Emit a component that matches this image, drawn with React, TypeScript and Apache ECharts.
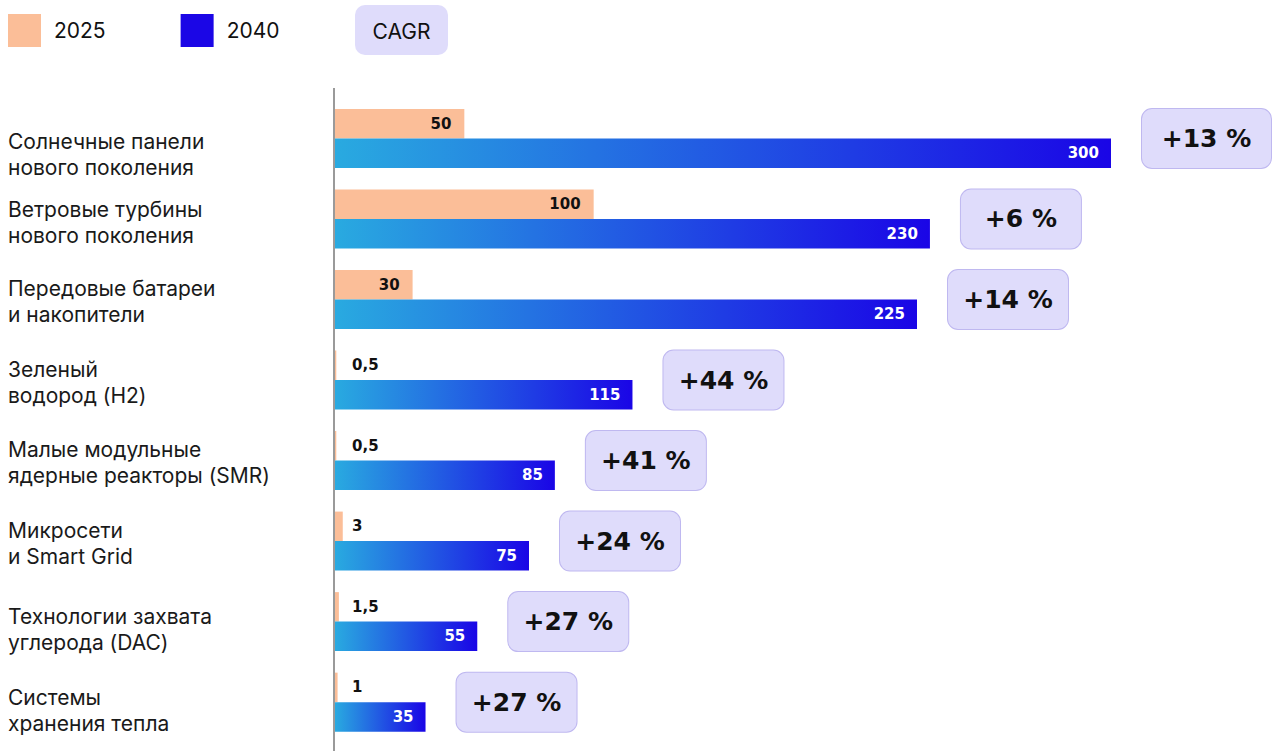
import React, { useEffect, useRef } from "react";
import * as echarts from "echarts";

const categories = [
  "Солнечные панели\nнового поколения",
  "Ветровые турбины\nнового поколения",
  "Передовые батареи\nи накопители",
  "Зеленый\nводород (H2)",
  "Малые модульные\nядерные реакторы (SMR)",
  "Микросети\nи Smart Grid",
  "Технологии захвата\nуглерода (DAC)",
  "Системы\nхранения тепла",
];
const values2025 = [50, 100, 30, 0.5, 0.5, 3, 1.5, 1];
const values2040 = [300, 230, 225, 115, 85, 75, 55, 35];
const cagr = [13, 6, 14, 44, 41, 24, 27, 27];
const seriesNames = ["2025", "2040"];

const labelOffsets = [16, 3.5, 2, 2, 1.5, 2.5, 7.5, 8];

const fmt = (v: number) => String(v).replace(".", ",");

export default function App() {
  const ref = useRef<HTMLDivElement>(null);
  useEffect(() => {
    if (!ref.current) return;
    const chart = echarts.init(ref.current, undefined, { renderer: "svg" });
    const peach = "#FBBE98";
    const grad = new echarts.graphic.LinearGradient(0, 0, 1, 0, [
      { offset: 0, color: "#29AAE0" },
      { offset: 1, color: "#1A05E6" },
    ]);
    const option: any = {
      animation: false,
      legend: {
        left: 8,
        top: 14,
        padding: 0,
        itemWidth: 33,
        itemHeight: 33,
        itemGap: 75,
        icon: "rect",
        textStyle: {
          fontFamily: "Inter",
          fontSize: 21,
          color: "#111",
          width: 60,
          padding: [0, 0, 0, 8],
        },
        data: [
          { name: seriesNames[0], itemStyle: { color: peach } },
          { name: seriesNames[1], itemStyle: { color: "#1B06E6" } },
        ],
      },
      graphic: [
        {
          type: "rect",
          left: 355,
          top: 5,
          shape: { width: 93, height: 50, r: 10 },
          style: { fill: "#DFDCFB" },
        },
        {
          type: "text",
          x: 401.5,
          y: 31,
          style: {
            text: "CAGR",
            fontFamily: "Inter",
            fontSize: 21,
            fill: "#111",
            align: "center",
            verticalAlign: "middle",
          },
        },
        {
          type: "line",
          shape: { x1: 334, y1: 88, x2: 334, y2: 751 },
          style: { stroke: "#9A9A9A", lineWidth: 2 },
          z: 10,
        },
      ],
      grid: {
        left: 335,
        right: 11.8,
        top: 98.2,
        bottom: 8.6,
        containLabel: false,
        outerBoundsMode: "none",
      },
      xAxis: {
        type: "value",
        min: 0,
        max: 360,
        show: false,
      },
      yAxis: {
        type: "category",
        inverse: true,
        data: categories.map((c, i) => ({
          value: c,
          textStyle: {
            align: "left",
            verticalAlign: "middle",
            padding: [labelOffsets[i] * 2, 0, 0, 0],
          },
        })),
        axisLine: { show: false },
        axisTick: { show: false },
        axisLabel: {
          align: "left",
          margin: 327,
          fontFamily: "Inter",
          fontSize: 21,
          lineHeight: 26,
          color: "#1a1a1a",
          formatter: (v: string) =>
            v
              .split("\n")
              .map((l) => `{a|${l}}`)
              .join("\n"),
          rich: {
            a: {
              fontFamily: "Inter",
              fontSize: 21,
              lineHeight: 26,
              color: "#1a1a1a",
            },
          },
        },
      },
      series: [
        {
          name: seriesNames[0],
          type: "bar",
          barWidth: 29.5,
          barGap: "0%",
          itemStyle: { color: peach },
          data: values2025.map((v) => ({
            value: v,
            label:
              v >= 10
                ? { show: true, position: "insideRight", distance: 13 }
                : { show: true, position: [17, "50%"], align: "left", verticalAlign: "middle" },
          })),
          label: {
            show: true,
            formatter: (p: any) => fmt(p.value),
            fontFamily: "DejaVu Sans",
            fontWeight: "bold",
            fontSize: 15,
            color: "#111",
          },
        },
        {
          name: seriesNames[1],
          type: "bar",
          barWidth: 29.5,
          itemStyle: { color: grad },
          data: values2040,
          label: {
            show: true,
            position: "insideRight",
            distance: 12,
            formatter: (p: any) => fmt(p.value),
            fontFamily: "DejaVu Sans",
            fontWeight: "bold",
            fontSize: 15,
            color: "#fff",
          },
        },
        {
          name: "CAGR",
          type: "scatter",
          symbolSize: 0,
          z: 5,
          itemStyle: { opacity: 1 },
          data: values2040.map((v, i) => ({
            value: [v, i],
            label: {
              rich: {
                b: { width: i === 0 ? 129 : 120 },
              },
            },
          })),
          label: {
            show: true,
            opacity: 1,
            position: "right",
            distance: 31,
            formatter: (p: any) => `{b|+${cagr[p.dataIndex]} %}`,
            rich: {
              b: {
                width: 120,
                height: 59,
                lineHeight: 59,
                align: "center",
                verticalAlign: "middle",
                backgroundColor: "#DFDCFB",
                borderColor: "#BFB8F0",
                borderWidth: 1,
                borderRadius: 10,
                fontFamily: "DejaVu Sans",
                fontWeight: "bold",
                fontSize: 25,
                color: "#111",
              },
            },
          },
        },
      ],
    };
    chart.setOption(option);
    return () => chart.dispose();
  }, []);
  return (
    <div
      ref={ref}
      style={{ position: "absolute", left: 0, top: 0, width: 1278, height: 751 }}
    />
  );
}
